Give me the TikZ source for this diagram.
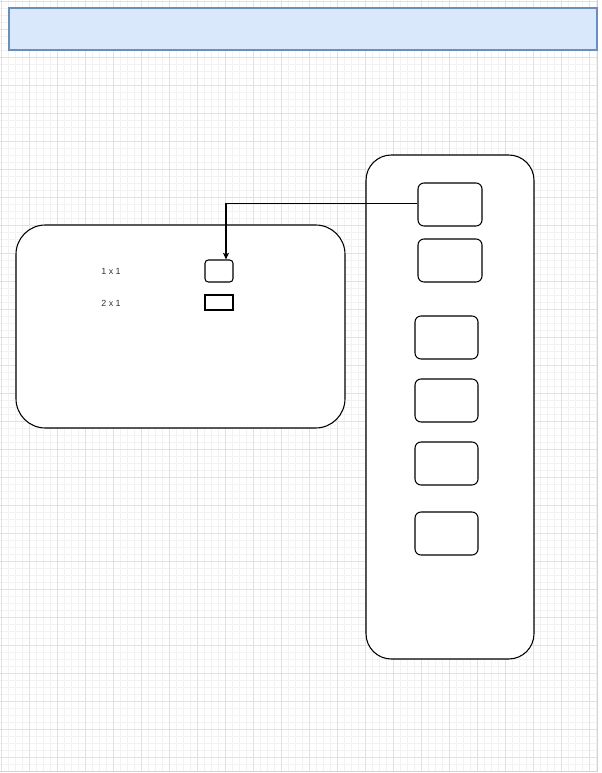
\documentclass[tikz,border=0pt]{standalone}
\usepackage{fontspec}
\setmainfont{Liberation Sans}
\usetikzlibrary{fit,arrows.meta}
\definecolor{hdrfill}{HTML}{DAE8FC}
\definecolor{hdrdraw}{HTML}{6C8EBF}
\definecolor{minorgrid}{HTML}{F2F2F2}
\definecolor{majorgrid}{HTML}{E2E2E2}
\definecolor{txtgray}{HTML}{333333}
\tikzset{
  panel/.style={draw=black, fill=white, line width=0.8pt, inner sep=0pt},
  slot/.style={draw=black, fill=white, line width=0.8pt, inner sep=0pt, rounded corners=4.5pt},
  header/.style={draw=hdrdraw, fill=hdrfill, line width=0.8pt, inner sep=0pt},
  lbl/.style={font=\fontsize{6.7pt}{8pt}\selectfont, text=txtgray, inner sep=0pt},
  link/.style={draw=black, line width=0.8pt, -{Stealth[length=5pt,width=4.5pt,inset=1.2pt]}}
}
\begin{document}
\begin{tikzpicture}[x=0.75pt,y=-0.75pt]
\useasboundingbox (0,0) rectangle (601,773);
\fill[white] (0,0) rectangle (601,773);
% grid
\begin{scope}
\clip (0,0) rectangle (597,771.5);
\foreach \i in {0,...,86} {
  \draw[minorgrid, line width=0.5pt] ({1.3+7*\i},0) -- ({1.3+7*\i},773);
}
\foreach \i in {0,...,111} {
  \draw[minorgrid, line width=0.5pt] (0,{1.3+7*\i}) -- (601,{1.3+7*\i});
}
\foreach \i in {0,...,21} {
  \draw[majorgrid, line width=0.6pt] ({1.3+28*\i},0) -- ({1.3+28*\i},773);
}
\foreach \i in {0,...,27} {
  \draw[majorgrid, line width=0.6pt] (0,{1.3+28*\i}) -- (601,{1.3+28*\i});
}
\end{scope}
\draw[gray!35, line width=0.6pt] (597,0) -- (597,771.5) -- (0,771.5);
% header
\node[header, fit={(9,8)(597,50)}] (header) {};
% left panel
\node[panel, rounded corners=22pt, fit={(16,225)(345,428)}] (leftpanel) {};
\node[lbl] (t1) at (111,271) {1 x 1};
\node[lbl] (t2) at (111,303) {2 x 1};
\node[slot, rounded corners=2.5pt, fit={(205,260)(233,282)}] (s1) {};
\node[panel, fit={(205,295)(233,310)}] (s2) {};
% right panel
\node[panel, rounded corners=19pt, fit={(366,155)(534,659)}] (rightpanel) {};
\node[slot, fit={(418,183)(482,226)}] (b1) {};
\node[slot, fit={(418,239)(482,282)}] (b2) {};
\node[slot, fit={(415,316)(478,359)}] (b3) {};
\node[slot, fit={(415,379)(478,422)}] (b4) {};
\node[slot, fit={(415,442)(478,485)}] (b5) {};
\node[slot, fit={(415,512)(478,555)}] (b6) {};
% connector
\draw[link] ([yshift=0.75pt]b1.west) -| ([xshift=5.25pt]s1.north);
\end{tikzpicture}
\end{document}
